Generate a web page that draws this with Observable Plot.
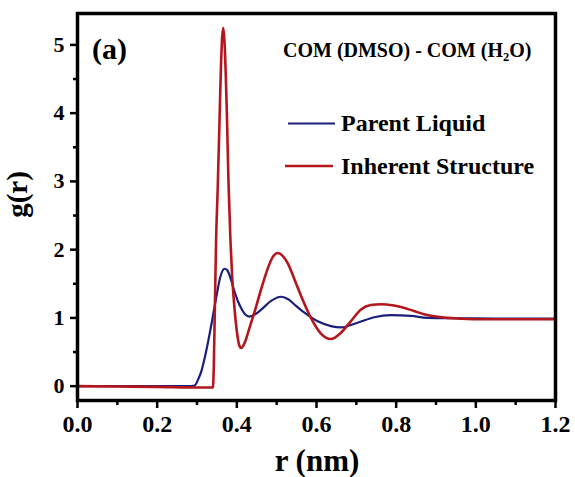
<!DOCTYPE html>
<html>
<head>
<meta charset="utf-8">
<script src="https://cdn.jsdelivr.net/npm/d3@7"></script>
<script src="https://cdn.jsdelivr.net/npm/@observablehq/plot@0.6"></script>
<style>
  html, body { margin: 0; padding: 0; background: #fff; }
  #chart svg { display: block; }
</style>
</head>
<body>
<div id="chart"></div>
<script>
// ---- Data ----
const seriesNames = ["Parent Liquid", "Inherent Structure"];
const seriesColors = ["#1b1f7a", "#b3171d"];

const rParent = [0, 0.1, 0.2, 0.28, 0.294, 0.303, 0.311, 0.323, 0.336, 0.348, 0.359, 0.369, 0.376, 0.382, 0.394, 0.403, 0.411, 0.421, 0.432, 0.445, 0.461, 0.486, 0.511, 0.530, 0.544, 0.569, 0.603, 0.636, 0.661, 0.703, 0.745, 0.787, 0.837, 0.879, 0.95, 1.05, 1.2];
const gParent = [0, 0, 0, 0, 0.01, 0.1, 0.22, 0.51, 0.9, 1.29, 1.61, 1.72, 1.7, 1.62, 1.39, 1.24, 1.14, 1.05, 1.02, 1.05, 1.12, 1.25, 1.31, 1.27, 1.2, 1.08, 0.95, 0.88, 0.86, 0.93, 1.01, 1.04, 1.03, 1.0, 0.995, 0.99, 0.99];

const rInherent = [0, 0.1, 0.2, 0.3, 0.340, 0.342, 0.345, 0.348, 0.352, 0.357, 0.360, 0.363, 0.366, 0.369, 0.372, 0.375, 0.379, 0.384, 0.388, 0.394, 0.401, 0.406, 0.411, 0.420, 0.430, 0.444, 0.461, 0.478, 0.490, 0.503, 0.515, 0.528, 0.545, 0.565, 0.586, 0.611, 0.636, 0.661, 0.686, 0.711, 0.736, 0.762, 0.790, 0.812, 0.845, 0.870, 0.9, 0.929, 0.96, 1.012, 1.1, 1.2];
const gInherent = [0, -0.005, -0.01, -0.02, -0.02, 0.25, 1.2, 2.15, 2.9, 4.0, 4.65, 5.1, 5.25, 5.05, 4.6, 4.0, 3.0, 2.13, 1.64, 1.15, 0.76, 0.6, 0.56, 0.64, 0.82, 1.08, 1.42, 1.73, 1.89, 1.95, 1.91, 1.8, 1.56, 1.27, 1.0, 0.77, 0.69, 0.78, 0.95, 1.12, 1.19, 1.2, 1.185, 1.16, 1.10, 1.055, 1.02, 1.0, 0.99, 0.98, 0.98, 0.98];

const xMajorTicks = [0, 0.2, 0.4, 0.6, 0.8, 1.0, 1.2];
const xMinorTicks = [0.1, 0.3, 0.5, 0.7, 0.9, 1.1];
const yMajorTicks = [0, 1, 2, 3, 4, 5];
const yMinorTicks = [0.5, 1.5, 2.5, 3.5, 4.5];

const xLabel = "r (nm)";
const yLabel = "g(r)";
const panelLabel = "(a)";

// ---- Build tables ----
const parent = rParent.map((r, i) => ({r, g: gParent[i]}));
const inherent = rInherent.map((r, i) => ({r, g: gInherent[i]}));

const FONT = "'Liberation Serif', 'Times New Roman', serif";
const M = {left: 77, right: 20, top: 13, bottom: 77};
const W = 575, H = 477;

const plot = Plot.plot({
  width: W,
  height: H,
  marginLeft: M.left,
  marginRight: M.right,
  marginTop: M.top,
  marginBottom: M.bottom,
  style: {fontFamily: FONT, fontWeight: "bold", color: "#000", background: "#fff", overflow: "visible"},
  x: {domain: [0, 1.2]},
  y: {domain: [-0.21, 5.46]},
  marks: [
    Plot.axisX({ticks: xMinorTicks, tickSize: 5, strokeWidth: 2.5, text: null, label: null}),
    Plot.axisX({ticks: xMajorTicks, tickSize: 8, tickPadding: 6, strokeWidth: 2.5, fontSize: 24, fontWeight: "bold",
      tickFormat: d => d.toFixed(1), label: null}),
    Plot.axisY({ticks: yMinorTicks, tickSize: 4, strokeWidth: 2.5, text: null, label: null}),
    Plot.axisY({ticks: yMajorTicks, tickSize: 7, tickPadding: 6, strokeWidth: 2.5, fontSize: 22, fontWeight: "bold",
      tickFormat: d => String(d), label: null}),
    Plot.line(parent, {x: "r", y: "g", stroke: seriesColors[0], strokeWidth: 2.2, curve: "monotone-x"}),
    Plot.line(inherent, {x: "r", y: "g", stroke: seriesColors[1], strokeWidth: 2.6, curve: "monotone-x"}),
    Plot.frame({stroke: "#000", strokeWidth: 3.5})
  ]
});

document.getElementById("chart").appendChild(plot);

// ---- Annotations, axis titles and legend ----
const svg = d3.select(plot);
const pLeft = M.left, pTop = M.top, pRight = W - M.right, pBottom = H - M.bottom;

const ann = svg.append("g").attr("font-family", FONT).attr("font-weight", "bold").attr("fill", "#000")
  .attr("text-anchor", "start");

// x axis title
ann.append("text").attr("x", (pLeft + pRight) / 2 + 1).attr("y", 471)
  .attr("text-anchor", "middle").attr("font-size", 31).text(xLabel);
// y axis title
ann.append("text").attr("transform", `translate(27, ${(pTop + pBottom) / 2 - 12}) rotate(-90)`)
  .attr("text-anchor", "middle").attr("font-size", 29).text(yLabel);
// panel label
ann.append("text").attr("x", pLeft + 15).attr("y", pTop + 46).attr("font-size", 30).text(panelLabel);
// title
const t = ann.append("text").attr("x", 283).attr("y", 57).attr("font-size", 20);
t.append("tspan").text("COM (DMSO) - COM (H");
t.append("tspan").attr("font-size", 12.5).attr("dy", 4).text("2");
t.append("tspan").attr("dy", -4).text("O)");

// legend
const legendRows = [
  {name: seriesNames[0], color: seriesColors[0], y: 123.5, x1: 288, x2: 335, w: 2.2},
  {name: seriesNames[1], color: seriesColors[1], y: 166, x1: 285, x2: 333, w: 2.6}
];
legendRows.forEach(d => {
  ann.append("line").attr("x1", d.x1).attr("x2", d.x2).attr("y1", d.y).attr("y2", d.y)
    .attr("stroke", d.color).attr("stroke-width", d.w);
  ann.append("text").attr("x", 341).attr("y", d.y + 7.5).attr("font-size", 24).text(d.name);
});
</script>
</body>
</html>
